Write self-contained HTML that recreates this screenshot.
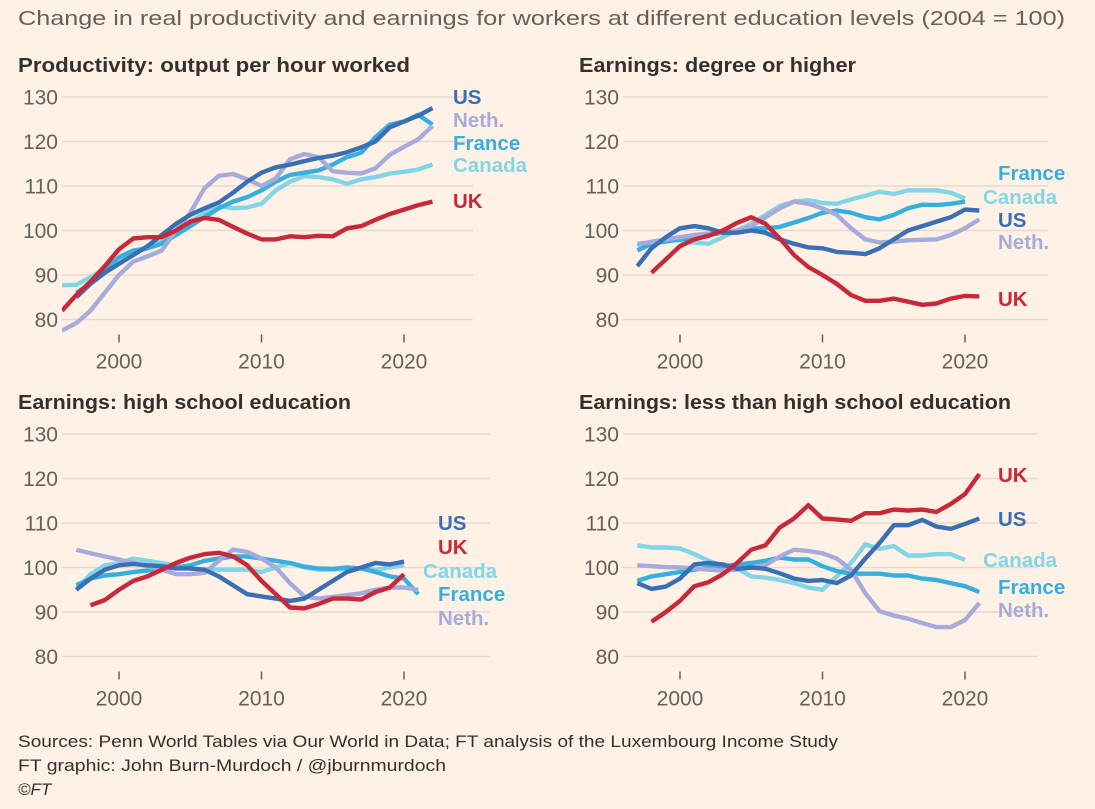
<!DOCTYPE html>
<html><head><meta charset="utf-8">
<style>
html,body{margin:0;padding:0;background:#fff1e5;}
svg{display:block;font-family:"Liberation Sans",sans-serif;}
</style></head>
<body>
<svg id="chart" width="1095" height="809" viewBox="0 0 1095 809">
<rect width="1095" height="809" fill="#fff1e5"/>
<text x="18" y="25" font-size="20.5" fill="#66605c" textLength="1047" lengthAdjust="spacingAndGlyphs">Change in real productivity and earnings for workers at different education levels (2004 = 100)</text>
<text x="18" y="747" font-size="17" fill="#33302e" textLength="820" lengthAdjust="spacingAndGlyphs">Sources: Penn World Tables via Our World in Data; FT analysis of the Luxembourg Income Study</text>
<text x="18" y="771" font-size="17" fill="#33302e" textLength="428" lengthAdjust="spacingAndGlyphs">FT graphic: John Burn-Murdoch / @jburnmurdoch</text>
<text x="18" y="795" font-size="17" fill="#33302e" font-style="italic">©FT</text>
</svg>
<script>
const years = [1996,1997,1998,1999,2000,2001,2002,2003,2004,2005,2006,2007,2008,2009,2010,2011,2012,2013,2014,2015,2016,2017,2018,2019,2020,2021,2022];
const yTicks = [80,90,100,110,120,130];
const xTicks = [2000,2010,2020];
const N = null;
// Productivity
const prodUS     = [N,85,88,90.5,92.5,94.5,96.5,99,101.5,103.5,105,106.3,108.5,111,113,114.2,114.8,115.6,116.3,116.8,117.6,118.7,120,123.2,124.5,125.8,127.5];
const prodNeth   = [77.5,79.2,82,86,90,93,94.2,95.5,100,104,109.5,112.3,112.7,111.5,110,111.7,116,117.2,116.5,113.3,113,112.8,114,117,118.8,120.5,123.5];
const prodFrance = [N,86,88,91,94,95.5,96,97,99,101,103,105,106.5,107.5,109,111,112.5,113,113.5,114.8,116.5,117.5,121,123.8,124.5,126,123.8];
const prodCanada = [87.7,87.8,89.5,91.5,93.5,95,96,97.5,99.5,102,104,105.5,105,105.2,106,109,111,112.2,112,111.5,110.5,111.5,112,112.8,113.2,113.7,114.8];
const prodUK     = [82,85.5,88.5,92,95.8,98.2,98.5,98.5,100,102,102.8,102.4,100.8,99.3,98,98,98.7,98.5,98.8,98.7,100.5,101,102.4,103.7,104.7,105.7,106.5];
// Earnings: degree or higher
const degUS     = [N,92,96,98.5,100.5,101,100.5,99.5,99.5,100,99.5,98,97,96.2,96,95.2,95,94.7,96,98,100,101,102,103,104.7,104.5,N];
const degUK     = [N,N,90.5,93.5,96.5,98,98.8,100,101.7,103,101.5,98.2,94.5,91.8,90,88,85.5,84.2,84.2,84.7,84,83.3,83.6,84.7,85.3,85.2,N];
const degFrance = [N,95.5,97,97.5,98,98.3,99,99.5,100,100.5,100.5,100.8,101.8,102.8,104,104.5,104,103,102.5,103.5,105,105.8,105.7,106,106.5,N,N];
const degCanada = [N,96.5,97.5,98,97.8,97.3,97,98.5,100,101.5,103.5,105.5,106.5,106.8,106.2,106,107,107.8,108.7,108.2,109,109,109,108.5,107.2,N,N];
const degNeth   = [N,97,97.4,98,98.5,99,99.3,99.6,100,101,103,105,106.5,106,105,103.5,100.5,98,97.3,97.5,97.8,97.9,98,99,100.5,102.5,N];
// Earnings: high school
const hsUS     = [N,95,97.5,99.5,100.5,100.8,100.5,100.3,99.8,99.8,99.5,98,96,94,93.5,93,92.5,93,95,97,99,100,101,100.7,101.3,N,N];
const hsUK     = [N,N,91.5,92.7,95,97,98,99.5,101,102.2,103,103.3,102.5,100.5,97,94,91,90.8,91.8,93,93,92.8,94.5,95.5,98.5,N,N];
const hsCanada = [N,95,98.5,100.5,101,102,101.5,101,100.5,99.7,99.5,99.5,99.5,99.5,99,100,101,100,99.5,99.5,99.7,99.8,99.5,100,100.5,N,N];
const hsFrance = [N,96,97.5,98.2,98.5,99,99.3,99.6,100,100.5,101.5,102,102.5,102.5,102,101.5,101,100.2,99.8,99.7,100,99.8,99,98,97.5,94,N];
const hsNeth   = [N,104,103.2,102.5,101.8,101,100.3,99.5,98.5,98.5,98.8,101.5,104,103.5,102,100,96.5,93.5,93,93.4,93.8,94.2,95,95.5,95.5,95,N];
// Earnings: less than high school
const lhsUK     = [N,N,87.8,90,92.5,95.8,96.7,98.5,101,104,105,109,111,114,111,110.8,110.5,112.2,112.2,113,112.8,113,112.5,114.3,116.5,121,N];
const lhsUS     = [N,96.5,95.2,95.7,97.5,100.7,101,100.7,99.7,100,99.7,98.7,97.5,97,97.2,96.5,98.2,102,105.5,109.5,109.5,110.7,109.2,108.7,109.8,111,N];
const lhsCanada = [N,105,104.5,104.5,104.3,103,101.5,100.5,99.8,98,97.7,97.2,96.5,95.5,95,98,101,105.2,104.2,104.8,102.7,102.7,103,103,101.7,N,N];
const lhsFrance = [N,97,98,98.5,99,99.5,100,100.3,100.7,101,101.5,102.2,101.8,101.8,100.3,99.2,98.6,98.6,98.6,98.2,98.2,97.5,97.2,96.5,95.8,94.5,N];
const lhsNeth   = [N,100.5,100.3,100.1,100,99.8,99.5,99.3,99.5,100,100.5,102.5,104,103.7,103.2,102,99.5,94.2,90.2,89.2,88.5,87.5,86.6,86.6,88.2,92,N];

const COL = {US:'#3a6fb4', Neth:'#a7abdc', France:'#37afdc', Canada:'#82d5e6', UK:'#c7283a'};
const svg = document.getElementById('chart');
const NS = 'http://www.w3.org/2000/svg';
function mk(tag, attrs){ const e=document.createElementNS(NS,tag); for(const k in attrs) e.setAttribute(k,attrs[k]); svg.appendChild(e); return e; }

function panel(cfg){
  const xs = y => cfg.x2000 + (y-2000)*14.25;
  const ys = v => cfg.y130 + (130-v)*4.45;
  const t = mk('text',{x:cfg.gx0-44, y:cfg.y130-25, 'font-size':20.5, 'font-weight':'bold', fill:'#33302e', textLength:cfg.titleLen, lengthAdjust:'spacingAndGlyphs'});
  t.textContent = cfg.title;
  
  
  yTicks.forEach(v=>{
    const l = mk('line',{x1:cfg.gx0, x2:cfg.gx1, y1:ys(v), y2:ys(v), stroke:'#e6d9ce', 'stroke-width':1.5});
    
    
    const tx = mk('text',{x:cfg.gx0-4, y:ys(v)+7.5, 'font-size':21, fill:'#66605c', 'text-anchor':'end'});
    tx.textContent = v;
    
    
  });
  xTicks.forEach(yr=>{
    const l = mk('line',{x1:xs(yr), x2:xs(yr), y1:ys(80)+15, y2:ys(80)+23, stroke:'#66605c', 'stroke-width':1.5});
    
    
    const tx = mk('text',{x:xs(yr), y:ys(80)+49, 'font-size':21, fill:'#66605c', 'text-anchor':'middle'});
    tx.textContent = yr;
    
    
  });
  const clipId = 'clip'+cfg.name;
  const cp = mk('clipPath',{id:clipId});
  const r = document.createElementNS(NS,'rect');
  r.setAttribute('x',cfg.gx0); r.setAttribute('y',cfg.y130-30); r.setAttribute('width',cfg.gx1-cfg.gx0+40); r.setAttribute('height',300);
  cp.appendChild(r);
  cfg.series.forEach(s=>{
    let d='';
    s.data.forEach((v,i)=>{ if(v===null) return; d += (d?'L':'M')+xs(years[i]).toFixed(1)+','+ys(v).toFixed(1); });
    const p = mk('path',{d:d, fill:'none', stroke:COL[s.key], 'stroke-width':4.4, 'stroke-linejoin':'round', 'clip-path':'url(#'+clipId+')'});
    
    
  });
  cfg.labels.forEach(lb=>{
    const tx = mk('text',{x:lb[1], y:lb[2]+7, 'font-size':20.5, 'font-weight':'bold', fill:COL[lb[0]]});
    tx.textContent = lb[0]==='Neth' ? 'Neth.' : lb[0];
    
    
  });
}

panel({name:'productivity-panel', title:'Productivity: output per hour worked', titleLen:392, x2000:119, gx0:62, gx1:473, y130:97,
  series:[{key:'Canada',data:prodCanada},{key:'France',data:prodFrance},{key:'Neth',data:prodNeth},{key:'US',data:prodUS},{key:'UK',data:prodUK}],
  labels:[['US',453,97],['Neth',453,120],['France',453,143],['Canada',453,165],['UK',453,201]]});
panel({name:'degree-panel', title:'Earnings: degree or higher', titleLen:277, x2000:680, gx0:623, gx1:1048, y130:97,
  series:[{key:'Canada',data:degCanada},{key:'France',data:degFrance},{key:'Neth',data:degNeth},{key:'US',data:degUS},{key:'UK',data:degUK}],
  labels:[['France',998,173],['Canada',983,197],['US',998,220],['Neth',998,242],['UK',998,299]]});
panel({name:'high-school-panel', title:'Earnings: high school education', titleLen:333, x2000:119, gx0:62, gx1:490, y130:434,
  series:[{key:'Canada',data:hsCanada},{key:'France',data:hsFrance},{key:'Neth',data:hsNeth},{key:'US',data:hsUS},{key:'UK',data:hsUK}],
  labels:[['US',438,523],['UK',438,547],['Canada',423,571],['France',438,594],['Neth',438,618]]});
panel({name:'less-than-high-school-panel', title:'Earnings: less than high school education', titleLen:432, x2000:680, gx0:623, gx1:1038, y130:434,
  series:[{key:'Canada',data:lhsCanada},{key:'France',data:lhsFrance},{key:'Neth',data:lhsNeth},{key:'US',data:lhsUS},{key:'UK',data:lhsUK}],
  labels:[['UK',998,475],['US',998,519],['Canada',983,560],['France',998,587],['Neth',998,610]]});
</script>
</body></html>
